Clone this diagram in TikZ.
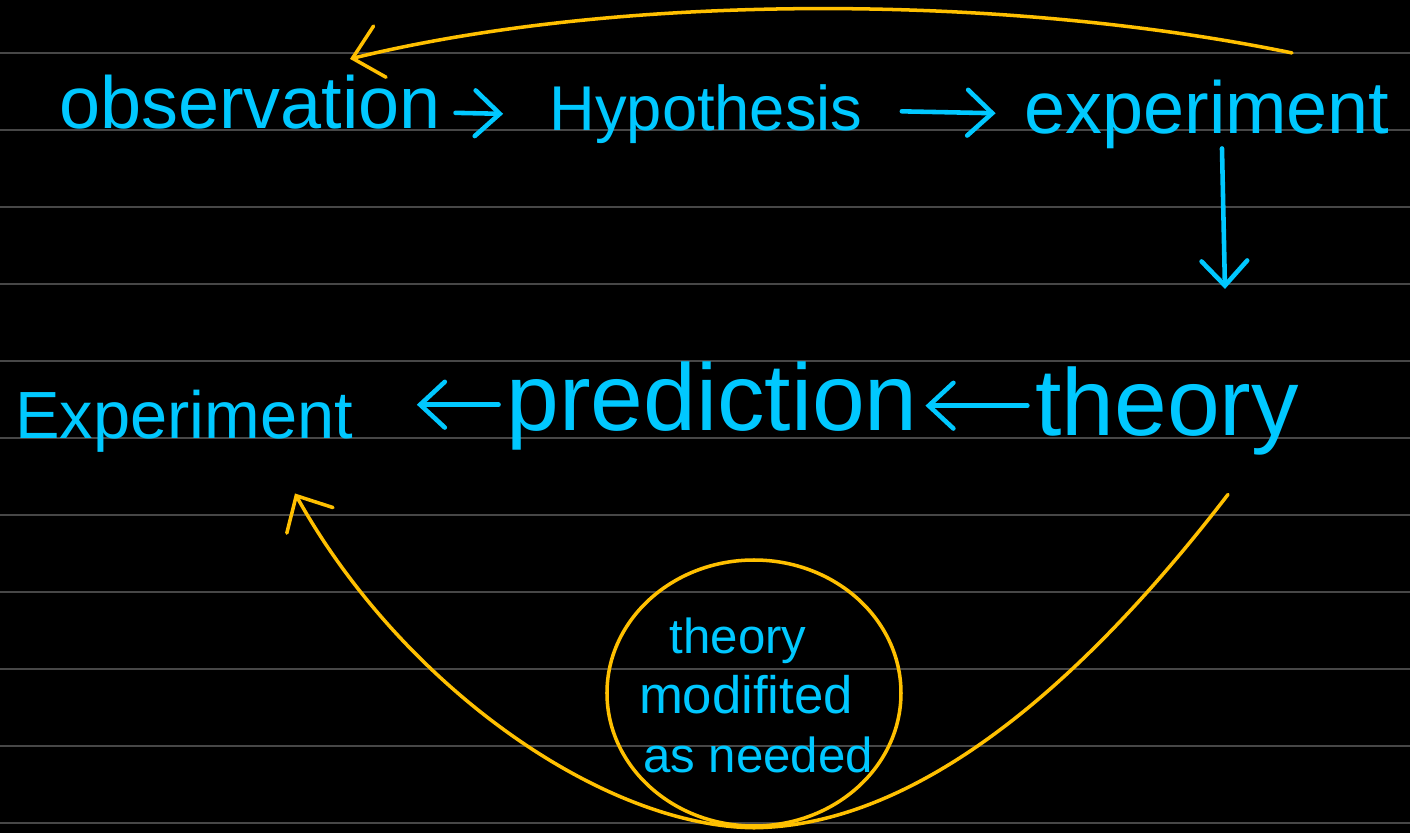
\documentclass[tikz,border=0pt]{standalone}
\usepackage{fontspec}
\setmainfont{Liberation Sans}
\usetikzlibrary{arrows.meta,shapes.geometric}
\definecolor{cy}{HTML}{00C8FF}
\definecolor{yel}{HTML}{FFC000}
\definecolor{ruled}{HTML}{474747}

\begin{document}
\begin{tikzpicture}[
    word/.style={text=cy, anchor=base, inner sep=2pt, text height=0.75em, text depth=0.22em},
    cyarr/.style={draw=cy, line width=1.3pt, line cap=round, -{Straight Barb[length=7pt,width=13pt,line cap=round]}},
    ylarr/.style={draw=yel, line width=1pt, line cap=round, -{Straight Barb[length=8pt,width=15pt,line cap=round]}},
    rule/.style={draw=ruled, line width=0.8pt},
  ]

  % --- Paper ---
  \fill[black] (0,0) rectangle (14.10,8.33);
  \useasboundingbox (0,0) rectangle (14.10,8.33);
  \foreach \y in {7.80,7.03,6.26,5.49,4.72,3.95,3.18,2.41,1.64,0.87,0.10}
    \draw[rule] (0,\y) -- (14.10,\y);

  % --- Top row ---
  \node[word, font=\fontsize{21}{25}\selectfont] (obs) at (2.50,7.05) {observation};
  \node[word, font=\fontsize{18}{22}\selectfont] (hyp) at (7.06,7.03) {Hypothesis};
  \node[word, font=\fontsize{21}{25}\selectfont] (exp) at (12.07,7.00) {experiment};

  % --- Middle row ---
  \node[word, font=\fontsize{27}{32}\selectfont] (thy) at (11.67,3.98) {theory};
  \node[word, font=\fontsize{27}{32}\selectfont] (pred) at (7.12,4.03) {prediction};
  \node[word, font=\fontsize{19}{23}\selectfont] (expl) at (1.84,3.95) {Experiment};

  % --- Loop ---
  \node[draw=yel, line width=1pt, ellipse, minimum width=2.94cm, minimum height=2.66cm] (loop) at (7.54,1.40) {};
  \node[word, font=\fontsize{14}{17}\selectfont] (l1) at (7.38,1.80) {theory};
  \node[word, font=\fontsize{15}{18}\selectfont] (l2) at (7.46,1.20) {modifited};
  \node[word, font=\fontsize{14}{17}\selectfont] (l3) at (7.58,0.61) {as needed};

  % --- Blue arrows ---
  \draw[cyarr, shorten <=2pt, shorten >=11pt] ([yshift=0.06cm]obs.east) -- ([yshift=0.06cm]hyp.west);
  \draw[cyarr, shorten <=9pt, shorten >=6pt] ([yshift=0.1cm]hyp.east) -- ([yshift=0.1cm]exp.west);
  \draw[cyarr] ([xshift=0.15cm,yshift=0.0cm]exp.south) -- ([xshift=0.58cm,yshift=1.12cm]thy.north);
  \draw[cyarr] ([yshift=0.2cm]thy.west) -- ([yshift=0.2cm]pred.east |- thy.west);
  \draw[cyarr, shorten >=16pt] ([yshift=0.16cm]pred.west) -- ([yshift=0.16cm]expl.east |- pred.west);

  % --- Yellow arrows ---
  \draw[ylarr] ([xshift=0.85cm,yshift=0.46cm]exp.north)
    .. controls (10.0,8.4) and (6.2,8.4) .. ([xshift=1.00cm,yshift=0.35cm]obs.north);
  \draw[ylarr] ([xshift=0.61cm,yshift=-0.44cm]thy.south)
    .. controls (10.6,1.2) and (9.0,0.07) .. (loop.south)
    .. controls (6.0,0.07) and (4.0,1.5) .. ([xshift=1.11cm,yshift=-0.40cm]expl.south);

\end{tikzpicture}
\end{document}
